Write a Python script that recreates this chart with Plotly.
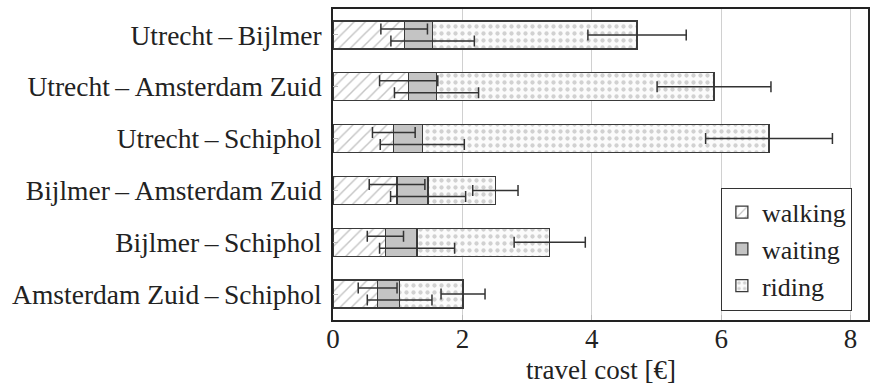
import plotly.graph_objects as go
import numpy as np

routes = [
    "Utrecht\u2009–\u2009Bijlmer",
    "Utrecht\u2009–\u2009Amsterdam Zuid",
    "Utrecht\u2009–\u2009Schiphol",
    "Bijlmer\u2009–\u2009Amsterdam Zuid",
    "Bijlmer\u2009–\u2009Schiphol",
    "Amsterdam Zuid\u2009–\u2009Schiphol",
]
walking = [1.10, 1.17, 0.94, 0.99, 0.81, 0.69]
waiting = [0.44, 0.43, 0.44, 0.48, 0.49, 0.34]
riding = [3.16, 4.29, 5.36, 1.04, 2.05, 0.98]
walking_err = [0.36, 0.45, 0.33, 0.43, 0.28, 0.30]
waiting_err = [0.645, 0.65, 0.65, 0.58, 0.58, 0.50]
riding_err = [0.76, 0.88, 0.98, 0.35, 0.55, 0.34]
x_ticks = [0, 2, 4, 6, 8]
x_title = "travel cost [€]"

FONT = "Liberation Serif"
EDGE = "#3a3a3a"
pos = np.arange(len(routes))

fig = go.Figure()
fig.add_trace(go.Bar(
    y=pos, x=walking, orientation="h", name="walking", width=0.54,
    marker=dict(color="white", line=dict(color=EDGE, width=1.3),
                pattern=dict(shape="/", fgcolor="#8a8a8a", bgcolor="white", size=8, solidity=0.18)),
))
fig.add_trace(go.Bar(
    y=pos, x=waiting, orientation="h", name="waiting", width=0.54,
    marker=dict(color="#c4c4c4", line=dict(color=EDGE, width=1.3)),
))
fig.add_trace(go.Bar(
    y=pos, x=riding, orientation="h", name="riding", width=0.54,
    marker=dict(color="white", line=dict(color=EDGE, width=1.3),
                pattern=dict(shape=".", fgcolor="#a8a8a8", bgcolor="#fbfbfb", size=7, solidity=0.3)),
))

cum1 = np.array(walking)
cum2 = cum1 + np.array(waiting)
cum3 = cum2 + np.array(riding)
offs = [-0.115, 0.115, 0.0]
for cum, err, off in zip([cum1, cum2, cum3], [walking_err, waiting_err, riding_err], offs):
    fig.add_trace(go.Scatter(
        x=cum, y=pos + off, mode="markers", showlegend=False, hoverinfo="skip",
        marker=dict(size=1, color="rgba(0,0,0,0)"),
        error_x=dict(type="data", array=err, symmetric=True, color="#333333", thickness=1.5, width=5.5),
    ))

fig.add_annotation(
    text=x_title, xref="paper", yref="paper", x=0.5, y=-0.162,
    xanchor="center", yanchor="middle", showarrow=False,
    font=dict(family=FONT, size=27, color="#222222"),
)

fig.update_layout(
    width=870, height=387,
    margin=dict(l=333, r=2, t=9, b=67),
    barmode="stack",
    plot_bgcolor="white", paper_bgcolor="white",
    font=dict(family=FONT, size=27, color="#222222"),
    legend=dict(
        x=0.725, y=0.03, xanchor="left", yanchor="bottom",
        bordercolor="#333333", borderwidth=1, bgcolor="white",
        traceorder="normal", font=dict(family=FONT, size=26, color="#222222"),
    ),
    xaxis=dict(
        range=[0, 8.27], tickvals=x_ticks, ticktext=[str(t) for t in x_ticks],
        showgrid=True, gridcolor="#d0d0d0", gridwidth=1, zeroline=False,
        showline=True, linecolor="#222222", linewidth=1.5, mirror=True,
        ticks="inside", ticklen=5, tickcolor="#bbbbbb",
        tickfont=dict(family=FONT, size=27),
        ticklabelstandoff=-6,
        automargin=False,
    ),
    yaxis=dict(
        range=[5.5, -0.5], tickvals=list(pos), ticktext=routes,
        showgrid=False, zeroline=False,
        showline=True, linecolor="#222222", linewidth=1.5, mirror=True,
        ticks="inside", ticklen=5, tickcolor="#bbbbbb",
        tickfont=dict(family=FONT, size=27.5),
        ticklabelstandoff=4,
        automargin=False,
    ),
)

fig.write_html("out.html")
